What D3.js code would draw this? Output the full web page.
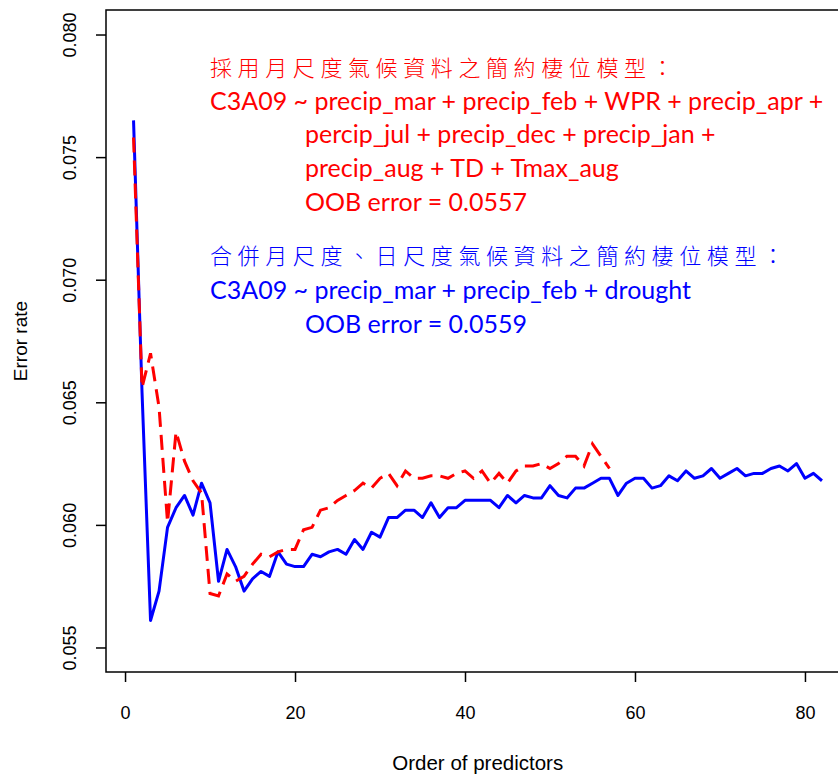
<!DOCTYPE html>
<html>
<head>
<meta charset="utf-8">
<script src="https://cdn.jsdelivr.net/npm/d3@7"></script>
<style>
  html, body { margin: 0; padding: 0; background: #fff; }
  svg { display: block; }
</style>
</head>
<body>
<svg id="chart" width="838" height="776"></svg>
<script>
// ---- data ----
const blueX = d3.range(1, 83);
const blueValues = [
  0.0765, 0.0654, 0.0561, 0.0573, 0.0599, 0.0607, 0.0612, 0.0604, 0.0617, 0.0609,
  0.0577, 0.0590, 0.0583, 0.0573, 0.0578, 0.0581, 0.0579, 0.0589, 0.0584, 0.0583,
  0.0583, 0.0588, 0.0587, 0.0589, 0.0590, 0.0588, 0.0594, 0.0590, 0.0597, 0.0595,
  0.0603, 0.0603, 0.0606, 0.0606, 0.0603, 0.0609, 0.0603, 0.0607, 0.0607, 0.0610,
  0.0610, 0.0610, 0.0610, 0.0607, 0.0612, 0.0609, 0.0612, 0.0611, 0.0611, 0.0616,
  0.0612, 0.0611, 0.0615, 0.0615, 0.0617, 0.0619, 0.0619, 0.0612, 0.0617, 0.0619,
  0.0619, 0.0615, 0.0616, 0.0620, 0.0618, 0.0622, 0.0619, 0.0620, 0.0623, 0.0619,
  0.0621, 0.0623, 0.0620, 0.0621, 0.0621, 0.0623, 0.0624, 0.0622, 0.0625, 0.0619,
  0.0621, 0.0618
];
const redX = d3.range(1, 58);
const redValues = [
  0.0758, 0.0656, 0.0670, 0.0648, 0.0601, 0.0638, 0.0626, 0.0618, 0.0613, 0.0572,
  0.0571, 0.0580, 0.0577, 0.0579, 0.0584, 0.0588, 0.0587, 0.0589, 0.0590, 0.0590,
  0.0598, 0.0599, 0.0606, 0.0607, 0.0610, 0.0612, 0.0614, 0.0617, 0.0615, 0.0619,
  0.0621, 0.0616, 0.0622, 0.0619, 0.0619, 0.0620, 0.0620, 0.0619, 0.0621, 0.0622,
  0.0619, 0.0622, 0.0617, 0.0621, 0.0617, 0.0622, 0.0624, 0.0624, 0.0625, 0.0623,
  0.0625, 0.0628, 0.0628, 0.0624, 0.0633, 0.0628, 0.0623
];
const xTicks = [0, 20, 40, 60, 80];
const yTicks = [0.055, 0.060, 0.065, 0.070, 0.075, 0.080];
const yTickLabels = ["0.055", "0.060", "0.065", "0.070", "0.075", "0.080"];
const xLabel = "Order of predictors";
const yLabel = "Error rate";
const redText = [
  "採用月尺度氣候資料之簡約棲位模型：",
  "C3A09 ~ precip_mar + precip_feb + WPR + precip_apr +",
  "percip_jul + precip_dec + precip_jan +",
  "precip_aug + TD + Tmax_aug",
  "OOB error = 0.0557"
];
const blueText = [
  "合併月尺度、日尺度氣候資料之簡約棲位模型：",
  "C3A09 ~ precip_mar + precip_feb + drought",
  "OOB error = 0.0559"
];

// ---- layout ----
const svg = d3.select("#chart");
const pL = 106, pR = 849.5, pT = 10, pB = 672;
const x = d3.scaleLinear().domain([-2.24, 85.24]).range([pL, pR]);
const y = d3.scaleLinear().domain([0.054, 0.081]).range([pB, pT]);

const axisFont = "'Liberation Sans', Arial, sans-serif";
const txtFont = "Lato, 'Liberation Sans', sans-serif";
const cjkFont = "'Noto Sans CJK TC', 'Noto Sans CJK SC', sans-serif";

// box
svg.append("rect")
  .attr("x", pL).attr("y", pT)
  .attr("width", pR - pL).attr("height", pB - pT)
  .attr("fill", "none").attr("stroke", "#000").attr("stroke-width", 1.5);

// x axis
const xAxis = d3.axisBottom(x).tickValues(xTicks).tickSize(10).tickPadding(24).tickFormat(d3.format("d"));
const gx = svg.append("g").attr("transform", `translate(0,${pB})`).call(xAxis);
gx.select(".domain").remove();
gx.selectAll(".tick line").attr("stroke", "#000").attr("stroke-width", 1.5);
gx.selectAll(".tick text").attr("font-family", axisFont).attr("font-size", 18).attr("fill", "#000");

// y axis
const yAxis = d3.axisLeft(y).tickValues(yTicks).tickSize(10).tickFormat((d, i) => yTickLabels[i]);
const gy = svg.append("g").attr("transform", `translate(${pL},0)`).call(yAxis);
gy.select(".domain").remove();
gy.selectAll(".tick line").attr("stroke", "#000").attr("stroke-width", 1.5);
gy.selectAll(".tick text")
  .attr("font-family", axisFont).attr("font-size", 18).attr("fill", "#000")
  .attr("text-anchor", "middle")
  .attr("x", 0).attr("y", 0)
  .attr("dy", "0.35em")
  .attr("transform", "translate(-36,0) rotate(-90)");

// axis titles
svg.append("text")
  .attr("x", (pL + pR) / 2).attr("y", 770)
  .attr("text-anchor", "middle")
  .attr("font-family", axisFont).attr("font-size", 20.5)
  .text(xLabel);
svg.append("text")
  .attr("transform", `translate(27,${(pT + pB) / 2}) rotate(-90)`)
  .attr("text-anchor", "middle")
  .attr("font-family", axisFont).attr("font-size", 19)
  .text(yLabel);

// lines
const line = d3.line().x(d => x(d[0])).y(d => y(d[1]));

svg.append("path")
  .datum(blueX.map((d, i) => [d, blueValues[i]]))
  .attr("d", line)
  .attr("fill", "none").attr("stroke", "#0000FF").attr("stroke-width", 3)
  .attr("stroke-linejoin", "round");

svg.append("path")
  .datum(redX.map((d, i) => [d, redValues[i]]))
  .attr("d", line)
  .attr("fill", "none").attr("stroke", "#FF0000").attr("stroke-width", 3)
  .attr("stroke-dasharray", "15,8");

// annotations
const textPos = [
  { x: 210, y: 76, cjk: true },
  { x: 210, y: 110 },
  { x: 305, y: 143 },
  { x: 305, y: 177 },
  { x: 305, y: 211 }
];
const textPosB = [
  { x: 210, y: 264, cjk: true },
  { x: 210, y: 299 },
  { x: 305, y: 333 }
];
function addText(lines, pos, color) {
  lines.forEach((t, i) => {
    const p = pos[i];
    const el = svg.append("text")
      .attr("x", p.x).attr("y", p.y)
      .attr("fill", color)
      .text(t);
    if (p.cjk) {
      el.attr("font-family", cjkFont).attr("font-size", 22)
        .attr("font-weight", 300).attr("letter-spacing", 5.6);
    } else {
      el.attr("font-family", txtFont).attr("font-size", 25);
    }
  });
}
addText(redText, textPos, "#FF0000");
addText(blueText, textPosB, "#0000FF");
</script>
</body>
</html>
